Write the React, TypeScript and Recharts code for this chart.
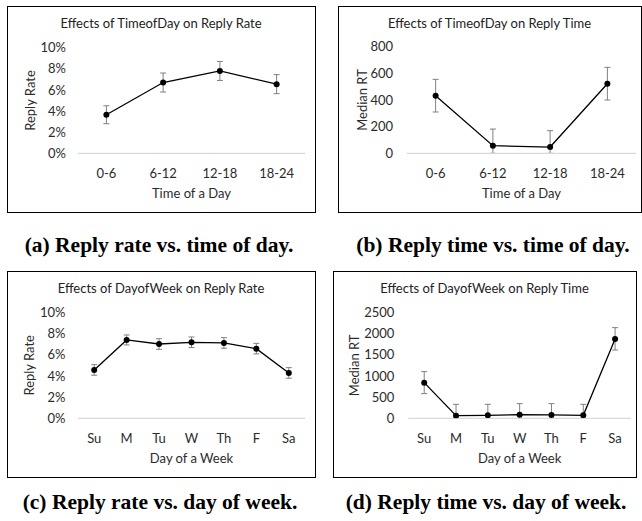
import React from 'react';
import { LineChart, Line, XAxis, YAxis, ErrorBar, Label } from 'recharts';

// time-of-day bins
const hourBins = ['0-6', '6-12', '12-18', '18-24'];
const hourRate = [3.65, 6.7, 7.8, 6.55];
const hourRateErr = [0.85, 0.9, 0.9, 0.9];
const hourTime = [432, 57, 47, 522];
const hourTimeErr = [[122, 123], [57, 125], [47, 123], [122, 123]];

// day-of-week bins
const weekDays = ['Su', 'M', 'Tu', 'W', 'Th', 'F', 'Sa'];
const dayRate = [4.56, 7.39, 7.01, 7.17, 7.11, 6.57, 4.28];
const dayRateErr = [0.5, 0.47, 0.5, 0.5, 0.5, 0.5, 0.5];
const dayTime = [841, 63, 71, 86, 79, 71, 1871];
const dayTimeErr = [[260, 260], [63, 267], [71, 259], [86, 260], [79, 267], [71, 259], [260, 267]];

const rateTicks = [0, 2, 4, 6, 8, 10];
const hourTimeTicks = [0, 200, 400, 600, 800];
const dayTimeTicks = [0, 500, 1000, 1500, 2000, 2500];

const FONT = 'Lato, "Open Sans", sans-serif';
const FS = 13;

interface PanelProps {
  left: number;
  top: number;
  width: number;
  height: number;
  plot: { l: number; t: number; r: number; b: number };
  title: string;
  xTitle: string;
  yTitle: string;
  yTitleX: number;
  yTickGap: number;
  categories: string[];
  values: number[];
  errors: (number | number[])[];
  ticks: number[];
  fmt?: (v: number) => string;
}

const Panel: React.FC<PanelProps> = (p) => {
  const data = p.categories.map((c, i) => ({ cat: c, v: p.values[i], err: p.errors[i] }));
  const max = p.ticks[p.ticks.length - 1];
  return (
    <div
      style={{
        position: 'absolute',
        left: p.left,
        top: p.top,
        width: p.width,
        height: p.height,
        border: '1.5px solid #000',
        boxSizing: 'border-box',
        fontFamily: FONT,
      }}
    >
      <div
        style={{
          position: 'absolute',
          left: -1.5,
          top: 7,
          width: p.width,
          textAlign: 'center',
          fontSize: FS,
          color: '#222',
          lineHeight: '18px',
        }}
      >
        {p.title}
      </div>
      <div style={{ position: 'absolute', left: -1.5, top: -1.5 }}>
        <LineChart
          width={p.width}
          height={p.height}
          data={data}
          margin={{ top: p.plot.t, right: p.width - p.plot.r, bottom: 0, left: 0 }}
        >
          <XAxis
            dataKey="cat"
            scale="band"
            height={p.height - p.plot.b}
            axisLine={{ stroke: '#d9d9d9', strokeWidth: 1.2 }}
            tickLine={false}
            tickSize={0}
            tickMargin={15}
            tick={{ fill: '#2b2b2b', fontSize: FS }}
            interval={0}
          >
            <Label value={p.xTitle} position="insideTop" offset={35} fill="#2b2b2b" fontSize={FS} />
          </XAxis>
          <YAxis
            width={p.plot.l}
            domain={[0, max]}
            ticks={p.ticks}
            allowDataOverflow
            axisLine={false}
            tickLine={false}
            tickSize={0}
            tickMargin={p.yTickGap}
            tick={{ fill: '#2b2b2b', fontSize: FS }}
            tickFormatter={p.fmt}
          >
            <Label
              value={p.yTitle}
              angle={-90}
              position="insideLeft"
              offset={p.yTitleX}
              fill="#2b2b2b"
              fontSize={FS}
              style={{ textAnchor: 'middle' }}
            />
          </YAxis>
          <Line
            dataKey="v"
            stroke="#000"
            strokeWidth={1.3}
            dot={{ r: 3, fill: '#000', stroke: 'none' }}
            isAnimationActive={false}
          >
            <ErrorBar dataKey="err" direction="y" width={3} stroke="#808080" strokeWidth={1} />
          </Line>
        </LineChart>
      </div>
    </div>
  );
};

const Caption: React.FC<{ cx: number; cy: number; text: string }> = ({ cx, cy, text }) => (
  <div
    style={{
      position: 'absolute',
      left: cx - 160,
      top: cy - 14,
      width: 320,
      textAlign: 'center',
      fontFamily: '"Liberation Serif", serif',
      fontWeight: 'bold',
      fontSize: 21.5,
      lineHeight: '28px',
      color: '#000',
      whiteSpace: 'nowrap',
    }}
  >
    {text}
  </div>
);

const pct = (v: number) => `${v}%`;

export default function App() {
  return (
    <div style={{ position: 'absolute', left: 0, top: 0, width: 642, height: 521, background: '#fff' }}>
      <Panel
        left={7}
        top={6}
        width={309}
        height={207}
        plot={{ l: 71, t: 41.7, r: 298, b: 147.3 }}
        title="Effects of TimeofDay on Reply Rate"
        xTitle="Time of a Day"
        yTitle="Reply Rate"
        yTitleX={23}
        yTickGap={12}
        categories={hourBins}
        values={hourRate}
        errors={hourRateErr}
        ticks={rateTicks}
        fmt={pct}
      />
      <Panel
        left={338}
        top={6}
        width={304}
        height={207}
        plot={{ l: 69, t: 40.7, r: 298, b: 147.3 }}
        title="Effects of TimeofDay on Reply Time"
        xTitle="Time of a Day"
        yTitle="Median RT"
        yTitleX={24.7}
        yTickGap={14}
        categories={hourBins}
        values={hourTime}
        errors={hourTimeErr}
        ticks={hourTimeTicks}
      />
      <Panel
        left={7}
        top={271}
        width={309}
        height={207}
        plot={{ l: 71, t: 41.3, r: 298, b: 147.3 }}
        title="Effects of DayofWeek on Reply Rate"
        xTitle="Day of a Week"
        yTitle="Reply Rate"
        yTitleX={22.3}
        yTickGap={12.5}
        categories={weekDays}
        values={dayRate}
        errors={dayRateErr}
        ticks={rateTicks}
        fmt={pct}
      />
      <Panel
        left={333}
        top={271}
        width={304}
        height={207}
        plot={{ l: 75.3, t: 41.3, r: 298, b: 147.3 }}
        title="Effects of DayofWeek on Reply Time"
        xTitle="Day of a Week"
        yTitle="Median RT"
        yTitleX={21.3}
        yTickGap={14}
        categories={weekDays}
        values={dayTime}
        errors={dayTimeErr}
        ticks={dayTimeTicks}
      />
      <Caption cx={159} cy={245} text="(a) Reply rate vs. time of day." />
      <Caption cx={493} cy={245} text="(b) Reply time vs. time of day." />
      <Caption cx={160} cy={502} text="(c) Reply rate vs. day of week." />
      <Caption cx={486} cy={502} text="(d) Reply time vs. day of week." />
    </div>
  );
}
